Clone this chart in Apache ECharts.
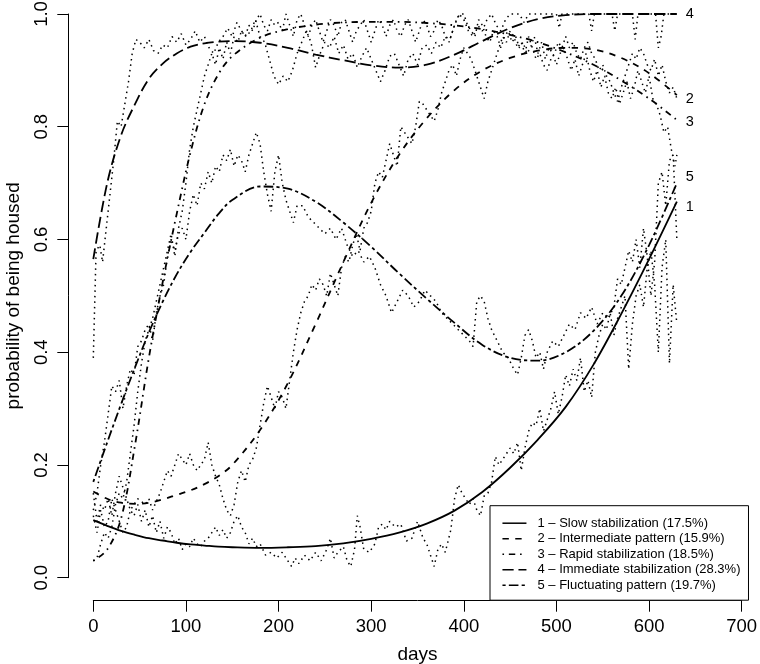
<!DOCTYPE html>
<html><head><meta charset="utf-8">
<script src="https://cdn.jsdelivr.net/npm/echarts/dist/echarts.min.js"></script>
<style>html,body{margin:0;padding:0;background:#fff}#c{width:760px;height:664px}</style>
</head><body><div id="c"></div>
<script>
// ---- data ----
const groupNames = [
  '1 \u2013 Slow stabilization (17.5%)',
  '2 \u2013 Intermediate pattern (15.9%)',
  '3 \u2013 Rapid stabilization (18.5%)',
  '4 \u2013 Immediate stabilization (28.3%)',
  '5 \u2013 Fluctuating pattern (19.7%)'
];
const endTags = ['1','2','3','4','5'];
const xTicks = [0,100,200,300,400,500,600,700];
const yTicks = [0,0.2,0.4,0.6,0.8,1.0];

const fitDays = [0,15,30,45,60,75,90,105,120,135,150,180,210,240,270,300,330,360,390,420,450,480,510,540,570,600,630];
const fit1 = [0.102,0.092,0.083,0.076,0.070,0.066,0.062,0.059,0.057,0.055,0.054,0.053,0.054,0.056,0.061,0.069,0.080,0.096,0.119,0.152,0.195,0.245,0.303,0.378,0.468,0.565,0.667];
const fit2 = [0.153,0.140,0.133,0.131,0.133,0.139,0.147,0.155,0.166,0.180,0.200,0.262,0.345,0.450,0.560,0.665,0.750,0.815,0.865,0.900,0.922,0.935,0.940,0.937,0.922,0.895,0.856];
const fit3 = [0.030,0.050,0.105,0.235,0.390,0.525,0.645,0.755,0.840,0.893,0.925,0.958,0.973,0.981,0.985,0.986,0.986,0.984,0.980,0.973,0.963,0.950,0.932,0.910,0.882,0.850,0.812];
const fit4 = [0.565,0.700,0.785,0.840,0.885,0.912,0.930,0.942,0.948,0.951,0.952,0.949,0.940,0.928,0.918,0.909,0.905,0.910,0.928,0.952,0.975,0.991,0.998,1.000,1.000,1.000,1.000];
const fit5 = [0.170,0.240,0.308,0.373,0.435,0.490,0.538,0.578,0.612,0.645,0.670,0.694,0.690,0.667,0.630,0.587,0.540,0.495,0.452,0.413,0.390,0.385,0.400,0.438,0.500,0.590,0.700];

const obs1 = [[0,0.11],[4,0.08],[8,0.12],[12,0.09],[16,0.10],[20,0.14],[24,0.12],[28,0.10],[32,0.08],[36,0.09],[40,0.12],[44,0.11],[48,0.13],[52,0.10],[56,0.12],[60,0.09],[64,0.11],[68,0.08],[72,0.10],[76,0.07],[80,0.09],[84,0.08],[88,0.06],[92,0.07],[96,0.05],[100,0.06],[104,0.055],[108,0.07],[112,0.06],[116,0.055],[120,0.065],[124,0.07],[128,0.08],[132,0.09],[136,0.075],[140,0.085],[144,0.07],[148,0.08],[152,0.10],[156,0.11],[160,0.09],[164,0.08],[168,0.06],[172,0.07],[176,0.055],[180,0.06],[186,0.04],[192,0.045],[198,0.035],[204,0.045],[210,0.03],[214,0.02],[218,0.035],[222,0.025],[228,0.04],[234,0.03],[240,0.045],[246,0.03],[252,0.05],[256,0.07],[260,0.035],[264,0.045],[270,0.055],[274,0.03],[278,0.02],[282,0.05],[285,0.11],[288,0.09],[292,0.05],[298,0.045],[304,0.06],[308,0.09],[312,0.095],[316,0.085],[320,0.10],[326,0.09],[332,0.095],[338,0.065],[344,0.07],[350,0.10],[356,0.07],[360,0.06],[364,0.04],[368,0.02],[372,0.05],[376,0.06],[380,0.045],[386,0.085],[390,0.14],[394,0.165],[398,0.15],[402,0.14],[406,0.13],[410,0.14],[414,0.12],[418,0.11],[422,0.145],[426,0.15],[430,0.17],[434,0.215],[438,0.20],[442,0.21],[446,0.22],[450,0.23],[454,0.22],[458,0.24],[462,0.19],[466,0.23],[470,0.26],[474,0.275],[478,0.27],[482,0.30],[486,0.26],[490,0.28],[494,0.30],[498,0.33],[502,0.29],[506,0.32],[510,0.36],[514,0.34],[518,0.37],[522,0.35],[526,0.39],[530,0.33],[534,0.35],[538,0.32],[542,0.40],[546,0.43],[550,0.45],[554,0.44],[558,0.47],[562,0.43],[566,0.46],[570,0.48],[574,0.50],[578,0.37],[582,0.45],[586,0.50],[590,0.52],[594,0.48],[598,0.55],[602,0.58],[606,0.52],[610,0.40],[614,0.55],[618,0.60],[622,0.38],[626,0.52],[630,0.45]];
const obs2 = [[0,0.15],[4,0.10],[8,0.13],[12,0.12],[16,0.14],[20,0.11],[24,0.15],[28,0.18],[32,0.16],[36,0.14],[40,0.12],[44,0.13],[48,0.14],[52,0.135],[56,0.13],[60,0.14],[64,0.12],[68,0.135],[72,0.15],[76,0.17],[80,0.19],[84,0.18],[88,0.20],[92,0.22],[96,0.21],[100,0.20],[104,0.22],[108,0.20],[112,0.19],[116,0.20],[120,0.21],[124,0.24],[128,0.20],[132,0.18],[136,0.165],[140,0.14],[144,0.12],[148,0.11],[152,0.13],[156,0.17],[160,0.19],[164,0.17],[168,0.20],[172,0.21],[176,0.23],[180,0.27],[184,0.31],[188,0.34],[192,0.32],[196,0.30],[200,0.33],[204,0.32],[208,0.30],[212,0.35],[216,0.40],[220,0.44],[224,0.47],[228,0.49],[232,0.50],[236,0.52],[240,0.51],[244,0.53],[248,0.52],[252,0.50],[256,0.54],[260,0.52],[264,0.50],[268,0.55],[272,0.57],[276,0.56],[280,0.59],[284,0.61],[288,0.58],[292,0.62],[296,0.63],[300,0.65],[304,0.70],[308,0.72],[312,0.71],[316,0.74],[320,0.77],[324,0.75],[328,0.73],[332,0.80],[336,0.79],[340,0.78],[344,0.77],[348,0.80],[352,0.845],[356,0.84],[360,0.83],[364,0.82],[368,0.81],[372,0.83],[376,0.86],[380,0.88],[384,0.90],[388,0.91],[392,0.89],[396,0.92],[400,0.94],[404,0.93],[408,0.92],[412,0.90],[416,0.88],[420,0.86],[422,0.85],[426,0.88],[430,0.90],[434,0.92],[438,0.94],[442,0.96],[446,0.95],[450,0.97],[454,0.96],[458,0.94],[462,0.95],[466,0.93],[470,0.96],[474,0.94],[478,0.92],[482,0.93],[486,0.91],[490,0.90],[494,0.92],[498,0.93],[502,0.95],[506,0.94],[510,0.96],[514,0.94],[518,0.95],[522,0.93],[526,0.92],[530,0.94],[534,0.95],[538,0.93],[542,0.92],[546,0.90],[550,0.91],[554,0.89],[558,0.88],[562,0.86],[566,0.845],[570,0.87],[574,0.89],[578,0.91],[582,0.93],[586,0.92],[590,0.94],[594,0.93],[598,0.91],[602,0.90],[606,0.92],[610,0.89],[614,0.91],[618,0.88],[622,0.86],[626,0.87],[630,0.85]];
const obs3 = [[0,0.03],[4,0.035],[8,0.06],[12,0.08],[16,0.07],[20,0.09],[24,0.13],[28,0.15],[32,0.14],[36,0.17],[40,0.22],[44,0.27],[48,0.33],[52,0.38],[56,0.42],[60,0.44],[64,0.46],[68,0.49],[72,0.52],[76,0.55],[80,0.58],[84,0.61],[88,0.57],[92,0.62],[96,0.65],[100,0.70],[104,0.76],[108,0.80],[112,0.83],[116,0.86],[120,0.89],[124,0.91],[128,0.93],[132,0.91],[136,0.94],[140,0.92],[144,0.95],[148,0.93],[152,0.96],[156,0.95],[160,0.97],[164,0.96],[168,0.98],[172,0.97],[176,0.99],[180,1.0],[184,0.98],[188,0.97],[192,0.99],[196,0.98],[200,0.985],[204,0.97],[208,1.0],[212,0.98],[216,0.96],[220,0.99],[224,1.0],[228,0.98],[232,0.96],[236,0.98],[240,0.99],[244,0.97],[248,0.95],[252,0.97],[256,0.99],[260,0.98],[264,0.96],[268,0.985],[272,0.99],[276,0.97],[280,0.95],[284,0.97],[288,0.98],[292,0.99],[296,0.97],[300,0.95],[304,0.97],[308,0.99],[312,0.98],[316,0.96],[320,0.98],[324,0.99],[328,0.97],[332,0.96],[336,0.98],[340,0.99],[344,0.97],[348,0.95],[352,0.97],[356,0.99],[360,0.98],[364,0.96],[368,0.97],[372,0.99],[376,0.98],[380,0.96],[384,0.95],[388,0.97],[392,0.99],[396,1.0],[400,1.0],[404,0.98],[408,0.97],[412,0.96],[416,0.99],[420,0.98],[424,0.96],[428,0.95],[432,0.97],[436,0.96],[440,0.94],[444,0.96],[448,0.97],[452,0.95],[456,0.96],[460,0.94],[464,0.95],[468,0.93],[472,0.94],[476,0.96],[480,0.93],[484,0.95],[488,0.92],[492,0.94],[496,0.93],[500,0.91],[504,0.93],[508,0.94],[512,0.92],[516,0.90],[520,0.92],[524,0.89],[528,0.91],[532,0.93],[536,0.90],[540,0.88],[544,0.90],[548,0.87],[552,0.89],[556,0.86],[560,0.85],[564,0.87],[568,0.84],[572,0.86],[576,0.88],[580,0.85],[584,0.87],[588,0.90],[592,0.88],[596,0.86],[600,0.89],[604,0.85],[608,0.84],[612,0.82],[616,0.79],[620,0.80],[624,0.76],[628,0.73],[630,0.75]];
const obs4 = [[0,0.39],[3,0.58],[7,0.59],[10,0.56],[14,0.62],[18,0.68],[22,0.74],[26,0.81],[30,0.80],[34,0.84],[38,0.88],[42,0.93],[46,0.955],[50,0.95],[55,0.94],[60,0.955],[65,0.935],[70,0.93],[75,0.945],[80,0.94],[85,0.96],[90,0.95],[95,0.965],[100,0.945],[105,0.955],[110,0.97],[115,0.95],[120,0.96],[125,0.94],[130,0.93],[135,0.95],[140,0.96],[145,0.975],[150,0.96],[155,0.985],[160,0.97],[165,0.96],[170,0.97],[175,0.99],[180,0.96],[185,0.95],[190,0.92],[195,0.89],[200,0.875],[205,0.89],[210,0.88],[215,0.90],[220,0.93],[225,0.95],[230,0.97],[235,0.95],[240,0.905],[245,0.93],[250,0.95],[255,0.94],[260,0.96],[265,0.93],[270,0.945],[275,0.92],[280,0.93],[285,0.905],[290,0.925],[295,0.94],[300,0.92],[305,0.90],[310,0.88],[315,0.90],[320,0.925],[325,0.93],[330,0.91],[335,0.89],[340,0.92],[345,0.93],[350,0.91],[355,0.94],[360,0.945],[365,0.93],[370,0.95],[375,0.94],[380,0.96],[385,0.955],[390,0.98],[395,1.0],[400,0.99],[405,0.97],[410,0.96],[415,0.98],[420,0.97],[425,0.99],[430,1.0],[435,0.98],[440,0.97],[445,0.99],[450,1.0],[460,1.0],[465,0.985],[470,1.0],[500,1.0],[503,0.975],[506,1.0],[535,1.0],[538,0.97],[541,1.0],[560,1.0],[563,0.97],[566,1.0],[582,1.0],[585,0.955],[588,1.0],[607,1.0],[610,0.94],[613,0.96],[616,1.0],[630,1.0]];
const obs5 = [[0,0.12],[4,0.15],[8,0.20],[12,0.24],[16,0.29],[20,0.34],[24,0.33],[28,0.35],[32,0.30],[36,0.34],[40,0.37],[44,0.36],[48,0.41],[52,0.42],[56,0.44],[60,0.45],[64,0.42],[68,0.47],[72,0.50],[76,0.52],[80,0.57],[84,0.60],[88,0.58],[92,0.61],[96,0.62],[100,0.60],[104,0.65],[108,0.68],[112,0.66],[116,0.70],[120,0.69],[124,0.72],[128,0.70],[132,0.73],[136,0.72],[140,0.75],[144,0.74],[148,0.76],[152,0.73],[156,0.75],[160,0.74],[164,0.72],[168,0.75],[172,0.77],[176,0.79],[180,0.77],[184,0.72],[188,0.68],[192,0.65],[196,0.72],[200,0.75],[204,0.70],[208,0.67],[212,0.65],[216,0.63],[220,0.66],[226,0.66],[232,0.64],[238,0.63],[244,0.62],[250,0.61],[256,0.62],[262,0.60],[268,0.62],[274,0.59],[280,0.57],[286,0.58],[292,0.56],[298,0.57],[304,0.55],[310,0.52],[316,0.50],[322,0.47],[328,0.49],[334,0.51],[340,0.50],[346,0.48],[352,0.49],[358,0.51],[364,0.50],[370,0.49],[376,0.47],[382,0.46],[388,0.45],[394,0.44],[400,0.43],[406,0.42],[410,0.41],[414,0.49],[418,0.50],[422,0.49],[426,0.46],[430,0.44],[436,0.42],[442,0.40],[448,0.39],[454,0.37],[458,0.36],[462,0.39],[466,0.43],[470,0.44],[474,0.42],[478,0.39],[482,0.40],[486,0.37],[490,0.40],[496,0.42],[502,0.41],[508,0.43],[514,0.45],[520,0.44],[526,0.47],[532,0.46],[538,0.48],[544,0.45],[550,0.47],[556,0.46],[562,0.48],[566,0.53],[570,0.52],[574,0.55],[578,0.58],[582,0.56],[586,0.60],[590,0.55],[594,0.62],[598,0.57],[602,0.50],[606,0.56],[610,0.70],[614,0.72],[618,0.66],[622,0.74],[626,0.75],[630,0.60]];

// ---- chart ----
const FONT = '"Liberation Sans", Arial, Helvetica, sans-serif';
const fits = [fit1, fit2, fit3, fit4, fit5];
const obsList = [obs1, obs2, obs3, obs4, obs5];
const dashes = ['solid', [6.4,6.4], [1.6,4.8,6.4,4.8], [11.2,4.8], [3.2,3.2,9.6,3.2]];
const labelOffsets = [[0,5],[0,4],[0,2],[0,0],[0,-6]];

const series = [];
obsList.forEach((o, i) => {
  series.push({
    name: 'obs' + (i + 1), type: 'line', data: o, symbol: 'none', silent: true,
    clip: false, z: 2,
    lineStyle: { color: '#000', width: 1.5, type: [1.5, 4] }
  });
});
fits.forEach((f, i) => {
  series.push({
    name: groupNames[i], type: 'line', symbol: 'none', smooth: 0.35, clip: false, z: 3,
    data: fitDays.map((d, k) => [d, f[k]]),
    lineStyle: { color: '#000', width: 1.8, type: dashes[i] },
    itemStyle: { color: '#000' },
    endLabel: { show: true, formatter: endTags[i], distance: 9, offset: labelOffsets[i],
      color: '#000', fontSize: 14.5, fontFamily: FONT }
  });
});

const chart = echarts.init(document.getElementById('c'), null, { renderer: 'canvas' });
chart.setOption({
  animation: false,
  backgroundColor: '#fff',
  grid: { left: 93.3, right: 18.3, top: 14, bottom: 86.3, containLabel: false, outerBoundsMode: 'none' },
  xAxis: {
    type: 'value', min: xTicks[0], max: xTicks[xTicks.length - 1], interval: xTicks[1] - xTicks[0],
    offset: 23,
    axisLine: { show: true, onZero: false, lineStyle: { color: '#000', width: 1 } },
    axisTick: { show: true, length: 11, lineStyle: { color: '#000', width: 1 } },
    splitLine: { show: false },
    axisLabel: { margin: 17, fontSize: 18.5, color: '#000', fontFamily: FONT },
    name: 'days', nameLocation: 'middle', nameGap: 45,
    nameTextStyle: { fontSize: 19, color: '#000', fontFamily: FONT }
  },
  yAxis: {
    type: 'value', min: yTicks[0], max: yTicks[yTicks.length - 1], interval: yTicks[1] - yTicks[0],
    offset: 25,
    axisLine: { show: true, onZero: false, lineStyle: { color: '#000', width: 1 } },
    axisTick: { show: true, length: 11, lineStyle: { color: '#000', width: 1 } },
    splitLine: { show: false },
    axisLabel: { rotate: 90, margin: 17, fontSize: 18.5, color: '#000', fontFamily: FONT,
      formatter: v => v.toFixed(1) },
    name: 'probability of being housed', nameLocation: 'middle', nameRotate: 90, nameGap: 45,
    nameTextStyle: { fontSize: 19, color: '#000', fontFamily: FONT }
  },
  legend: {
    data: groupNames, orient: 'vertical', left: 490, top: 505.7,
    padding: [10.5, 8, 8, 11.7], itemWidth: 24, itemHeight: 14, itemGap: 1.5,
    borderColor: '#000', borderWidth: 1, backgroundColor: '#fff',
    selectedMode: false,
    itemStyle: { opacity: 0 },
    lineStyle: { width: 1.5 },
    textStyle: { fontSize: 13, color: '#000', fontFamily: FONT, lineHeight: 14, padding: [0, 0, 0, 6] }
  },
  series: series
});
</script>
</body></html>
